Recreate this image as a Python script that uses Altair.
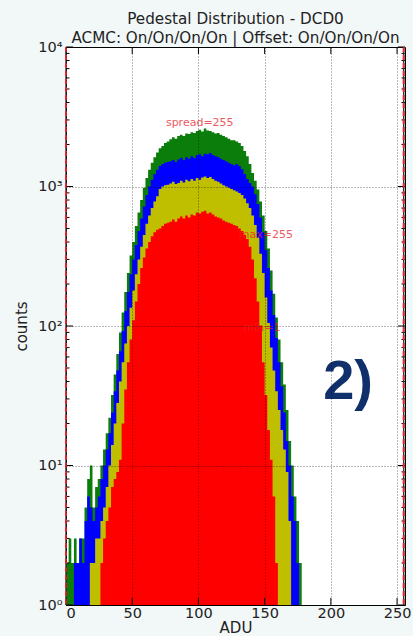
import altair as alt
import pandas as pd

# bin starts (ADU), 2-ADU wide bins
adu = list(range(0, 180, 2))

green = [2, 3, 2, 3, 2, 3, 3, 5, 8, 10,
         5, 7, 8, 10, 13, 17, 22, 32, 45, 63,
         90, 125, 175, 240, 320, 400, 520, 650, 800, 980,
         1150, 1320, 1480, 1620, 1750, 1880, 1950, 2050, 2100, 2180,
         2250, 2200, 2300, 2350, 2300, 2400, 2380, 2450, 2420, 2500,
         2550, 2480, 2600, 2520, 2500, 2450, 2400, 2420, 2350, 2300,
         2250, 2200, 2150, 2150, 2100, 2050, 1950, 1800, 1650, 1450,
         1250, 1100, 950, 780, 620, 480, 360, 250, 170, 115,
         80, 55, 38, 25, 15, 10, 6, 4, 2, 1]

blue = [1, 1, 1, 2, 2, 3, 2, 4, 6, 5,
        4, 5, 6, 8, 10, 13, 17, 24, 34, 48,
        66, 92, 128, 175, 235, 300, 380, 480, 590, 720,
        870, 1000, 1120, 1230, 1320, 1400, 1450, 1480, 1500, 1520,
        1550, 1500, 1560, 1600, 1550, 1620, 1580, 1650, 1600, 1680,
        1700, 1650, 1720, 1700, 1740, 1680, 1650, 1620, 1580, 1550,
        1520, 1480, 1450, 1420, 1450, 1400, 1330, 1230, 1130, 1060,
        1000, 880, 750, 600, 470, 350, 260, 180, 120, 82,
        55, 37, 24, 15, 10, 6, 4, 2, 1, 1]

yellow = [1, 1, 1, 1, 1, 1, 1, 1, 1, 2,
          2, 3, 3, 4, 5, 7, 10, 14, 20, 28,
          40, 55, 75, 100, 135, 180, 235, 300, 370, 450,
          540, 620, 700, 780, 850, 960, 1000, 1020, 1030, 1050,
          1080, 1040, 1060, 1100, 1070, 1120, 1090, 1130, 1100, 1150,
          1120, 1160, 1180, 1150, 1170, 1130, 1100, 1080, 1050, 1020,
          1000, 980, 960, 940, 920, 900, 870, 820, 760, 700,
          620, 530, 430, 330, 240, 160, 105, 70, 48, 34,
          25, 18, 13, 9, 4, 1, 1, 1, 1, 1]

red = [1, 1, 1, 1, 1, 1, 1, 1, 1, 1,
       1, 1, 1, 2, 3, 4, 5, 7, 8, 9,
       11, 20, 35, 55, 80, 110, 150, 200, 260, 310,
       360, 400, 440, 470, 490, 500, 520, 540, 550, 560,
       580, 560, 590, 610, 590, 620, 600, 630, 620, 650,
       640, 660, 670, 640, 650, 630, 610, 600, 590, 570,
       560, 550, 540, 530, 520, 500, 480, 450, 420, 370,
       300, 220, 150, 100, 55, 32, 18, 11, 6, 2,
       1, 1, 1, 1, 1, 1, 1, 1, 1, 1]

series_names = ["green", "blue", "yellow", "red"]
series_colors = ["#0a7d0a", "#0000ff", "#bfbf00", "#ff0000"]
series_values = [green, blue, yellow, red]

marker_adu = [0, 255]

ann_text = ["spread=255", "max=255", "min=1"]
ann_x = [101, 151, 148]
ann_y = [2850, 447, 97]

label_text = ["2)"]
label_x = [213]
label_y = [40]

x_ticks = [0, 50, 100, 150, 200, 250]
y_ticks = [1, 10, 100, 1000, 10000]
y_minor = [2, 3, 4, 5, 6, 7, 8, 9,
           20, 30, 40, 50, 60, 70, 80, 90,
           200, 300, 400, 500, 600, 700, 800, 900,
           2000, 3000, 4000, 5000, 6000, 7000, 8000, 9000]

FONT = "DejaVu Sans"
W, H = 339, 558

xscale = alt.Scale(domain=[0, 256], nice=False, zero=False)
yscale = alt.Scale(type="log", domain=[1, 10000], nice=False)

xaxis = alt.Axis(values=x_ticks, title="ADU", grid=True,
                 gridDash=[1, 2], gridColor="#000000", gridOpacity=0.55,
                 labelFont=FONT, labelFontSize=14.5, labelColor="#222",
                 titleFont=FONT, titleFontSize=15, titleFontWeight="normal",
                 titleColor="#222", titlePadding=1, labelPadding=1,
                 ticks=False, domain=False, zindex=1)
yaxis = alt.Axis(values=y_ticks, title="counts", grid=True,
                 gridDash=[1, 2], gridColor="#000000", gridOpacity=0.55,
                 labelExpr="'10' + ['⁰','¹','²','³','⁴'][round(log(datum.value)/LN10)]",
                 labelFont=FONT, labelFontSize=14.5, labelColor="#222",
                 titleFont=FONT, titleFontSize=15, titleFontWeight="normal",
                 titleColor="#222", titlePadding=8, labelPadding=4,
                 ticks=False, domain=False, zindex=1)

layers = []
for name, col, vals in zip(series_names, series_colors, series_values):
    xs = adu + [adu[-1] + 2]
    ys = list(vals) + [1]
    d = pd.DataFrame({"x": xs, "count": ys, "base": [1] * len(xs)})
    layers.append(
        alt.Chart(d)
        .mark_area(color=col, interpolate="step-after", clip=True)
        .encode(
            x=alt.X("x:Q", scale=xscale, axis=xaxis),
            y=alt.Y("count:Q", scale=yscale, axis=yaxis),
            y2="base:Q",
        )
    )

mk = pd.DataFrame({"x": marker_adu})
rule_dark = alt.Chart(mk).mark_rule(color="#333", strokeWidth=1.4).encode(
    x=alt.X("x:Q", scale=xscale, axis=xaxis))
rule_red = alt.Chart(mk).mark_rule(color="#e8262a", strokeWidth=2,
                                   strokeDash=[5, 3]).encode(
    x=alt.X("x:Q", scale=xscale, axis=xaxis))

# inward tick marks (matplotlib style)
ymaj = pd.DataFrame({"v": y_ticks})
ymin = pd.DataFrame({"v": y_minor})
xmaj = pd.DataFrame({"v": x_ticks})
tick_layers = []
for dfr, ln in [(ymaj, 7), (ymin, 3.5)]:
    for x0, x1 in [(0, ln), (W, W - ln)]:
        tick_layers.append(
            alt.Chart(dfr).mark_rule(color="#000", strokeWidth=1).encode(
                y=alt.Y("v:Q", scale=yscale, axis=yaxis),
                x=alt.value(x0), x2=alt.value(x1)))
for y0, y1 in [(H, H - 7), (0, 7)]:
    tick_layers.append(
        alt.Chart(xmaj).mark_rule(color="#000", strokeWidth=1).encode(
            x=alt.X("v:Q", scale=xscale, axis=xaxis),
            y=alt.value(y0), y2=alt.value(y1)))

ann = pd.DataFrame({"t": ann_text, "x": ann_x, "y": ann_y})
ann_layer = alt.Chart(ann).mark_text(color="#e8202a", font=FONT, fontSize=11,
                                     opacity=0.75, baseline="middle").encode(
    x=alt.X("x:Q", scale=xscale, axis=xaxis),
    y=alt.Y("y:Q", scale=yscale, axis=yaxis), text="t:N")

lab = pd.DataFrame({"t": label_text, "x": label_x, "y": label_y})
lab_layer = alt.Chart(lab).mark_text(color="#10306c", font="Liberation Sans",
                                     fontSize=56, fontWeight="bold",
                                     baseline="middle").encode(
    x=alt.X("x:Q", scale=xscale, axis=xaxis),
    y=alt.Y("y:Q", scale=yscale, axis=yaxis), text="t:N")

chart = alt.layer(*layers, *tick_layers, rule_dark, rule_red, ann_layer,
                  lab_layer).properties(
    width=W, height=H,
    title=alt.TitleParams(
        ["Pedestal Distribution - DCD0", "ACMC: On/On/On/On | Offset: On/On/On/On"],
        font=FONT, fontSize=15.2, fontWeight="normal", color="#222",
        anchor="middle", lineHeight=18.5, offset=-7),
    autosize=alt.AutoSizeParams(type="none"),
    padding={"left": 66, "top": 47, "right": 8, "bottom": 31},
    background="#f2f7f8",
).configure_view(stroke="#000", strokeWidth=1, fill="white")

chart.save("out.html", embed_options={"renderer": "svg", "actions": False})
